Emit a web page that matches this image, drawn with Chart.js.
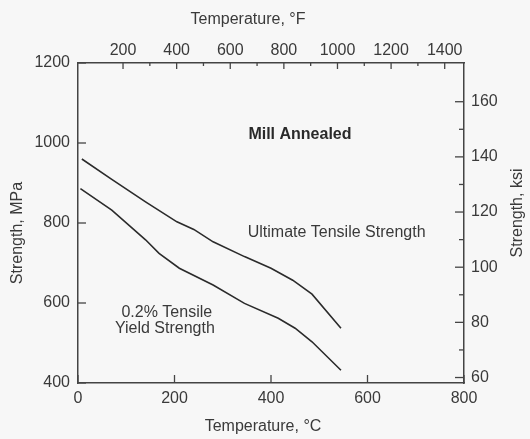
<!DOCTYPE html>
<html>
<head>
<meta charset="utf-8">
<script src="https://cdn.jsdelivr.net/npm/chart.js@4/dist/chart.umd.min.js"></script>
<style>
  html, body { margin: 0; padding: 0; background: #f7f7f7; }
  canvas { display: block; }
</style>
</head>
<body>
<canvas id="chart" width="530" height="439"></canvas>
<script>
// values (temperature in degC, strength in MPa)
const utsTemp = [8, 70, 140, 205, 240, 280, 345, 400, 445, 485, 545];
const utsMPa = [960, 909, 853, 803, 784, 753, 716, 687, 657, 622, 537];
const ysTemp = [5, 70, 140, 168, 210, 280, 345, 415, 450, 485, 545];
const ysMPa = [886, 832, 758, 724, 687, 645, 599, 562, 537, 503, 432];

// tick labels
const ticksC = [0, 200, 400, 600, 800];
const ticksF = [200, 400, 600, 800, 1000, 1200, 1400];
const minorF = [300, 500, 700, 900, 1100, 1300];
const ticksMPa = [400, 600, 800, 1000, 1200];
const ticksKsi = [60, 80, 100, 120, 140, 160];
const minorKsi = [70, 90, 110, 130, 150];

const MPA_PER_KSI = 6.895;
const FONT = "'Liberation Sans', Arial, sans-serif";
const TEXT = '#3a3a3a';
const INK = '#2b2b2b';

function toPoints(xs, ys) {
    return xs.map((x, i) => ({ x: x, y: ys[i] }));
}

function fixTicks(values) {
    return function (scale) {
        scale.ticks = values.map(v => ({ value: v }));
    };
}

// inward tick marks, axis titles and the text inside the plot
const decorations = {
    id: 'decorations',
    afterDraw(chart) {
        const ctx = chart.ctx;
        const s = chart.scales;
        const area = chart.chartArea;

        ctx.save();
        ctx.strokeStyle = '#444';
        ctx.lineWidth = 1.3;
        const tick = (x1, y1, x2, y2) => {
            ctx.beginPath();
            ctx.moveTo(x1, y1);
            ctx.lineTo(x2, y2);
            ctx.stroke();
        };
        ticksMPa.forEach(v => { const y = s.y.getPixelForValue(v); tick(area.left, y, area.left + 8, y); });
        ticksC.forEach(v => { const x = s.x.getPixelForValue(v); tick(x, area.bottom, x, area.bottom - 8); });
        ticksKsi.forEach(v => { const y = s.yKsi.getPixelForValue(v); tick(area.right, y, area.right - 9, y); });
        minorKsi.forEach(v => { const y = s.yKsi.getPixelForValue(v); tick(area.right, y, area.right - 5, y); });
        ticksF.forEach(v => { const x = s.xF.getPixelForValue(v); tick(x, area.top, x, area.top + 6); });
        minorF.forEach(v => { const x = s.xF.getPixelForValue(v); tick(x, area.top, x, area.top + 3); });

        ctx.fillStyle = TEXT;
        ctx.textAlign = 'center';
        ctx.textBaseline = 'middle';
        ctx.font = '16px ' + FONT;

        // axis titles
        ctx.fillText('Temperature, \u00b0F', 248, 20);
        ctx.fillText('Temperature, \u00b0C', 263, 427);
        ctx.save();
        ctx.translate(18, 233);
        ctx.rotate(-Math.PI / 2);
        ctx.fillText('Strength, MPa', 0, 0);
        ctx.restore();
        ctx.save();
        ctx.translate(518, 213);
        ctx.rotate(-Math.PI / 2);
        ctx.fillText('Strength, ksi', 0, 0);
        ctx.restore();

        // labels in the plot
        const px = v => s.x.getPixelForValue(v);
        const py = v => s.y.getPixelForValue(v);
        ctx.fillText('Ultimate Tensile Strength', px(536), py(777));
        ctx.fillText('0.2% Tensile', px(184), py(577));
        ctx.fillText('Yield Strength', px(180), py(537));
        ctx.font = 'bold 16px ' + FONT;
        ctx.fillStyle = '#2a2a2a';
        ctx.fillText('Mill Annealed', px(460), py(1022));
        ctx.restore();
    }
};

const tickFont = { family: FONT, size: 16 };
const plain = v => String(v);

new Chart(document.getElementById('chart'), {
    type: 'line',
    data: {
        datasets: [{
            label: 'Ultimate Tensile Strength',
            data: toPoints(utsTemp, utsMPa),
            borderColor: INK,
            borderWidth: 1.6,
            pointRadius: 0,
            tension: 0,
            xAxisID: 'x',
            yAxisID: 'y'
        }, {
            label: '0.2% Tensile Yield Strength',
            data: toPoints(ysTemp, ysMPa),
            borderColor: INK,
            borderWidth: 1.6,
            pointRadius: 0,
            tension: 0,
            xAxisID: 'x',
            yAxisID: 'y'
        }]
    },
    options: {
        responsive: false,
        animation: false,
        layout: { padding: 0 },
        plugins: {
            legend: { display: false },
            tooltip: { enabled: false }
        },
        scales: {
            x: {
                type: 'linear',
                position: 'bottom',
                min: 0,
                max: 800,
                afterBuildTicks: fixTicks(ticksC),
                afterFit: scale => { scale.height = 56; },
                grid: { display: false, drawTicks: false },
                border: { display: true, color: '#444', width: 1.5 },
                ticks: { font: tickFont, color: TEXT, padding: 6, maxRotation: 0, callback: plain }
            },
            xF: {
                type: 'linear',
                position: 'top',
                min: 32,
                max: 800 * 1.8 + 32,
                afterBuildTicks: fixTicks(ticksF),
                afterFit: scale => { scale.height = 63; },
                grid: { display: false, drawTicks: false },
                border: { display: true, color: '#444', width: 1.5 },
                ticks: { font: tickFont, color: TEXT, padding: 3, maxRotation: 0, callback: plain }
            },
            y: {
                type: 'linear',
                position: 'left',
                min: 400,
                max: 1200,
                afterBuildTicks: fixTicks(ticksMPa),
                afterFit: scale => { scale.width = 78; },
                grid: { display: false, drawTicks: false },
                border: { display: true, color: '#444', width: 1.5 },
                ticks: { font: tickFont, color: TEXT, padding: 8, callback: plain }
            },
            yKsi: {
                type: 'linear',
                position: 'right',
                min: 400 / MPA_PER_KSI,
                max: 1200 / MPA_PER_KSI,
                afterBuildTicks: fixTicks(ticksKsi),
                afterFit: scale => { scale.width = 66; },
                grid: { display: false, drawTicks: false },
                border: { display: true, color: '#444', width: 1.5 },
                ticks: { font: tickFont, color: TEXT, padding: 7, callback: plain }
            }
        }
    },
    plugins: [decorations]
});
</script>
</body>
</html>
